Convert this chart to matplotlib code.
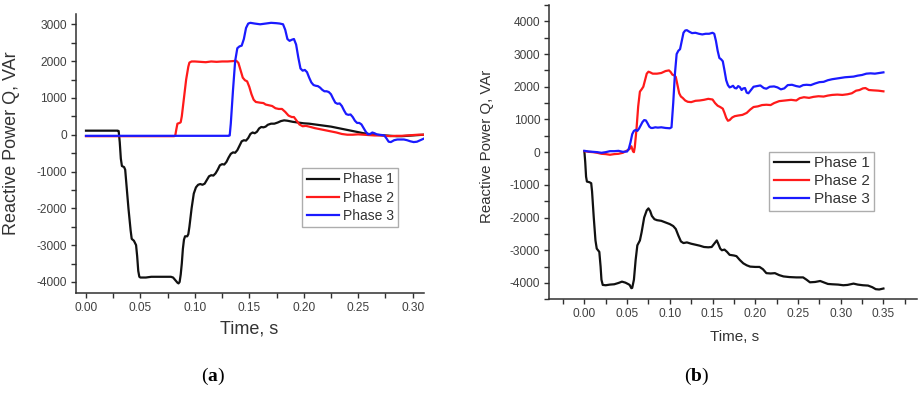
import matplotlib
matplotlib.use('Agg')
import matplotlib.pyplot as plt
from matplotlib.ticker import MultipleLocator, FormatStrFormatter
import numpy as np

plt.rcParams['font.family'] = ['Liberation Sans', 'DejaVu Sans']
plt.rcParams['axes.unicode_minus'] = False
plt.rcParams['mathtext.fontset'] = 'custom'
plt.rcParams['mathtext.rm'] = 'Liberation Serif'
plt.rcParams['mathtext.bf'] = 'Liberation Serif:bold'

# ---- panel (a) data ----
a_p1_t = [0.000, 0.029, 0.030, 0.031, 0.032, 0.033, 0.035, 0.036, 0.037, 0.039, 0.041, 0.042, 0.044,
          0.046, 0.047, 0.048, 0.049, 0.050, 0.055, 0.060, 0.070, 0.078, 0.080, 0.082, 0.084, 0.085,
          0.086, 0.087, 0.088, 0.089, 0.090, 0.091, 0.093, 0.094, 0.095, 0.097, 0.099, 0.101, 0.103,
          0.105, 0.107, 0.109, 0.111, 0.113, 0.115, 0.117, 0.119, 0.121, 0.123, 0.125, 0.127, 0.129,
          0.131, 0.133, 0.135, 0.137, 0.139, 0.141, 0.143, 0.145, 0.147, 0.149, 0.151, 0.153, 0.155,
          0.157, 0.159, 0.161, 0.163, 0.165, 0.167, 0.170, 0.173, 0.176, 0.179, 0.182, 0.185, 0.190,
          0.195, 0.200, 0.205, 0.210, 0.215, 0.220, 0.225, 0.230, 0.235, 0.240, 0.245, 0.250, 0.255,
          0.260, 0.265, 0.270, 0.275, 0.280, 0.285, 0.290, 0.295, 0.300, 0.305, 0.310]
a_p1_q = [110, 110, 100, -200, -650, -850, -880, -950, -1300, -2000, -2600, -2830, -2880,
          -3000, -3300, -3700, -3860, -3880, -3880, -3860, -3860, -3860, -3880, -3950, -4020, -4040,
          -4000, -3800, -3500, -3100, -2850, -2760, -2760, -2700, -2500, -2000, -1600, -1430, -1360,
          -1340, -1360, -1330, -1230, -1130, -1100, -1110, -1050, -950, -830, -800, -810, -740,
          -620, -520, -480, -490, -420, -300, -180, -150, -160, -90, 20, 60, 40,
          80, 170, 210, 200, 220, 270, 300, 300, 330, 370, 390, 380, 350,
          330, 310, 300, 280, 260, 240, 220, 190, 160, 130, 100, 70, 40,
          20, 0, -10, -20, -30, -40, -40, -30, -20, -10, 0]

a_p2_t = [0.000, 0.060, 0.081, 0.082, 0.083, 0.084, 0.086, 0.087, 0.088, 0.090, 0.092, 0.094, 0.095,
          0.097, 0.100, 0.105, 0.110, 0.115, 0.120, 0.125, 0.130, 0.135, 0.138, 0.140, 0.142, 0.144,
          0.146, 0.148, 0.150, 0.152, 0.154, 0.156, 0.158, 0.160, 0.163, 0.165, 0.168, 0.171, 0.174,
          0.177, 0.180, 0.183, 0.186, 0.189, 0.191, 0.193, 0.196, 0.199, 0.202, 0.205, 0.210, 0.215,
          0.220, 0.225, 0.230, 0.235, 0.240, 0.245, 0.250, 0.255, 0.260, 0.265, 0.270, 0.275, 0.280,
          0.285, 0.290, 0.295, 0.300, 0.305, 0.310]
a_p2_q = [-40, -40, -40, -20, 150, 300, 320, 340, 500, 1000, 1500, 1850, 1960,
          1990, 1990, 1980, 1970, 1990, 1980, 1990, 1990, 2000, 2010, 1950, 1750, 1550,
          1480, 1450, 1300, 1100, 950, 890, 880, 870, 860, 820, 800, 780, 720,
          700, 700, 620, 520, 480, 480, 400, 280, 230, 240, 220, 180, 150,
          120, 90, 60, 20, 0, 0, 10, 0, -10, -20, -20, -30, -40,
          -30, -30, -20, -10, 0, 0]

a_p3_t = [0.000, 0.131, 0.132, 0.133, 0.135, 0.137, 0.139, 0.141, 0.143, 0.145, 0.147, 0.149, 0.151,
          0.155, 0.160, 0.165, 0.170, 0.175, 0.178, 0.181, 0.183, 0.185, 0.187, 0.189, 0.191, 0.193,
          0.195, 0.197, 0.199, 0.201, 0.203, 0.205, 0.207, 0.209, 0.211, 0.213, 0.215, 0.217, 0.219,
          0.221, 0.223, 0.225, 0.227, 0.229, 0.231, 0.233, 0.235, 0.237, 0.239, 0.241, 0.243, 0.245,
          0.247, 0.249, 0.251, 0.253, 0.255, 0.257, 0.259, 0.261, 0.263, 0.265, 0.267, 0.269, 0.272,
          0.274, 0.276, 0.278, 0.280, 0.283, 0.286, 0.289, 0.292, 0.295, 0.298, 0.301, 0.304, 0.307,
          0.310]
a_p3_q = [-30, -30, -20, 300, 1200, 2000, 2350, 2400, 2420, 2600, 2900, 3020, 3040,
          3020, 3000, 3020, 3040, 3030, 3020, 3000, 2850, 2600, 2550, 2580, 2600, 2450,
          2100, 1800, 1740, 1760, 1700, 1550, 1420, 1350, 1330, 1320, 1280, 1220, 1180,
          1180, 1160, 1100, 980, 870, 840, 850, 780, 660, 560, 540, 550, 480,
          380, 320, 320, 280, 180, 80, 10, 20, 60, 40, 10, 0, -10,
          -20, -100, -190, -200, -150, -130, -130, -130, -150, -180, -200, -190, -150,
          -110]

# ---- panel (b) data ----
b_p1_t = [0.000, 0.001, 0.002, 0.003, 0.006, 0.008, 0.009, 0.011, 0.013, 0.0145, 0.016, 0.0175, 0.019,
          0.020, 0.0215, 0.025, 0.030, 0.035, 0.040, 0.044, 0.048, 0.051, 0.053, 0.055, 0.056, 0.058,
          0.060, 0.062, 0.064, 0.065, 0.067, 0.070, 0.073, 0.075, 0.077, 0.079, 0.082, 0.085, 0.090,
          0.095, 0.100, 0.104, 0.107, 0.110, 0.113, 0.116, 0.120, 0.125, 0.130, 0.135, 0.140, 0.145,
          0.149, 0.152, 0.155, 0.157, 0.159, 0.161, 0.164, 0.167, 0.170, 0.175, 0.178, 0.182, 0.186,
          0.190, 0.194, 0.200, 0.205, 0.209, 0.213, 0.218, 0.223, 0.228, 0.233, 0.240, 0.248, 0.256,
          0.260, 0.264, 0.270, 0.276, 0.280, 0.285, 0.290, 0.297, 0.303, 0.308, 0.315, 0.320, 0.326,
          0.332, 0.337, 0.341, 0.345, 0.350]
b_p1_q = [30, -300, -750, -900, -920, -950, -1200, -2000, -2700, -2950, -3000, -3050, -3500,
          -3900, -4060, -4070, -4050, -4040, -4000, -3960, -3990, -4030, -4060, -4160, -4150, -3900,
          -3300, -2850, -2750, -2700, -2450, -2000, -1780, -1720, -1800, -1950, -2050, -2080, -2100,
          -2150, -2200, -2260, -2350, -2550, -2730, -2780, -2760, -2800, -2830, -2860, -2900, -2910,
          -2900, -2800, -2700, -2820, -2950, -3000, -2980, -3050, -3140, -3160, -3180, -3300, -3400,
          -3460, -3500, -3510, -3510, -3580, -3700, -3710, -3700, -3760, -3800, -3820, -3830, -3830,
          -3900, -3980, -3970, -3940, -3980, -4030, -4040, -4050, -4070, -4060, -4020, -4050, -4070,
          -4080, -4130, -4190, -4200, -4170]

b_p2_t = [0.000, 0.005, 0.010, 0.015, 0.020, 0.025, 0.030, 0.035, 0.040, 0.045, 0.050, 0.053, 0.055,
          0.057, 0.058, 0.059, 0.061, 0.063, 0.065, 0.067, 0.069, 0.071, 0.073, 0.075, 0.077, 0.080,
          0.085, 0.090, 0.095, 0.099, 0.101, 0.103, 0.105, 0.107, 0.109, 0.111, 0.113, 0.115, 0.118,
          0.121, 0.125, 0.130, 0.135, 0.140, 0.145, 0.150, 0.153, 0.156, 0.159, 0.162, 0.164, 0.166,
          0.168, 0.170, 0.173, 0.176, 0.180, 0.185, 0.190, 0.194, 0.198, 0.203, 0.208, 0.213, 0.218,
          0.222, 0.228, 0.235, 0.242, 0.248, 0.252, 0.257, 0.263, 0.268, 0.274, 0.280, 0.285, 0.290,
          0.296, 0.302, 0.308, 0.313, 0.318, 0.322, 0.326, 0.329, 0.333, 0.338, 0.344, 0.350]
b_p2_q = [30, 10, 0, -20, -50, -60, -80, -60, -50, -20, 50, 100, 180,
          20, 0, 150, 700, 1400, 1850, 1920, 2000, 2200, 2400, 2460, 2440, 2400,
          2400, 2420, 2480, 2500, 2450, 2370, 2350, 2300, 2050, 1800, 1700, 1660, 1580,
          1540, 1530, 1570, 1580, 1600, 1630, 1610, 1500, 1420, 1380, 1330, 1200, 1050,
          960, 980, 1060, 1100, 1120, 1140, 1200, 1300, 1380, 1400, 1440, 1450, 1440,
          1500, 1560, 1580, 1600, 1580, 1650, 1680, 1660, 1690, 1710, 1700, 1730, 1750,
          1760, 1750, 1770, 1800, 1880, 1900, 1950, 1960, 1900, 1890, 1880, 1860]

b_p3_t = [0.000, 0.005, 0.010, 0.015, 0.020, 0.025, 0.030, 0.035, 0.040, 0.045, 0.050, 0.052, 0.054,
          0.056, 0.058, 0.060, 0.062, 0.064, 0.066, 0.068, 0.070, 0.072, 0.074, 0.076, 0.078, 0.080,
          0.083, 0.086, 0.090, 0.095, 0.100, 0.102, 0.104, 0.106, 0.108, 0.110, 0.112, 0.114, 0.116,
          0.118, 0.120, 0.123, 0.126, 0.130, 0.134, 0.138, 0.142, 0.146, 0.150, 0.152, 0.154, 0.156,
          0.158, 0.160, 0.162, 0.164, 0.166, 0.168, 0.170, 0.172, 0.174, 0.176, 0.178, 0.180, 0.182,
          0.184, 0.186, 0.188, 0.190, 0.192, 0.195, 0.198, 0.202, 0.206, 0.210, 0.213, 0.217, 0.222,
          0.226, 0.230, 0.234, 0.238, 0.243, 0.248, 0.252, 0.256, 0.260, 0.265, 0.270, 0.275, 0.280,
          0.285, 0.290, 0.295, 0.300, 0.305, 0.310, 0.315, 0.320, 0.325, 0.330, 0.335, 0.340, 0.345,
          0.350]
b_p3_q = [40, 20, 10, 0, -20, 0, 30, 30, 40, 10, 20, 100, 300,
          550, 650, 680, 650, 720, 820, 920, 980, 970, 880, 780, 740, 740,
          760, 750, 760, 740, 730, 760, 1500, 2400, 3000, 3100, 3150, 3400, 3650,
          3720, 3730, 3680, 3640, 3650, 3620, 3600, 3620, 3620, 3650, 3620, 3400, 3100,
          2880, 2840, 2780, 2500, 2200, 2050, 1980, 2000, 2030, 1960, 1950, 2020, 1990,
          1900, 1950, 1960, 1820, 1800, 1900, 2000, 2020, 2040, 1960, 1940, 2000, 2010,
          1980, 1920, 1950, 2050, 2060, 2020, 2000, 2050, 2060, 2050, 2100, 2140, 2150,
          2200, 2230, 2250, 2270, 2290, 2300, 2310, 2340, 2360, 2400, 2410, 2400, 2420,
          2440]

labels = ['Phase 1', 'Phase 2', 'Phase 3']
colors = ['#111111', '#ff1a1a', '#1a1aff']
txt = '#333333'


def style_axes(ax, fs_tick):
    for s in ['top', 'right']:
        ax.spines[s].set_visible(False)
    for s in ['left', 'bottom']:
        ax.spines[s].set_color('#303030')
        ax.spines[s].set_linewidth(1.1)
    ax.tick_params(which='both', direction='out', color='#303030', width=1.0,
                   labelsize=fs_tick, labelcolor='#404040')
    ax.tick_params(which='major', length=3.5, pad=3)
    ax.tick_params(which='minor', length=3.5)
    ax.yaxis.set_major_locator(MultipleLocator(1000))
    ax.yaxis.set_minor_locator(MultipleLocator(500))
    ax.yaxis.set_major_formatter(FormatStrFormatter('%d'))
    ax.xaxis.set_major_formatter(FormatStrFormatter('%.2f'))


def style_legend(leg):
    leg.get_frame().set_edgecolor('#999999')
    leg.get_frame().set_linewidth(1.0)
    for t in leg.get_texts():
        t.set_color(txt)


fig = plt.figure(figsize=(9.22, 3.93), dpi=100)

# (a)
ax1 = fig.add_axes([0.0824, 0.2545, 0.3774, 0.7099])
ax1.plot(a_p1_t, a_p1_q, color=colors[0], lw=1.6, label=labels[0])
ax1.plot(a_p2_t, a_p2_q, color=colors[1], lw=1.6, label=labels[1])
ax1.plot(a_p3_t, a_p3_q, color=colors[2], lw=1.6, label=labels[2])
ax1.set_xlim(-0.0092, 0.3104)
ax1.set_ylim(-4300, 3280)
style_axes(ax1, 8.6)
ax1.xaxis.set_major_locator(MultipleLocator(0.05))
ax1.xaxis.set_minor_locator(MultipleLocator(0.025))
ax1.set_ylabel('Reactive Power Q, VAr', fontsize=13, color=txt)
ax1.yaxis.set_label_coords(-0.160, 0.536)
ax1.set_xlabel('Time, s', fontsize=13, color=txt)
ax1.xaxis.set_label_coords(0.499, -0.100)
leg1 = ax1.legend(loc='upper left', bbox_to_anchor=(0.651, 0.447), borderaxespad=0,
                  fontsize=10, frameon=True, fancybox=False, handlelength=2.3,
                  handletextpad=0.3, labelspacing=0.32, borderpad=0.3)
style_legend(leg1)

# (b)
ax2 = fig.add_axes([0.5958, 0.2384, 0.3985, 0.7489])
ax2.plot(b_p1_t, b_p1_q, color=colors[0], lw=1.6, label=labels[0])
ax2.plot(b_p2_t, b_p2_q, color=colors[1], lw=1.6, label=labels[1])
ax2.plot(b_p3_t, b_p3_q, color=colors[2], lw=1.6, label=labels[2])
ax2.set_xlim(-0.041, 0.389)
ax2.set_ylim(-4500, 4500)
style_axes(ax2, 8.6)
ax2.set_xticks([0.0, 0.05, 0.10, 0.15, 0.20, 0.25, 0.30, 0.35])
ax2.xaxis.set_minor_locator(MultipleLocator(0.025))
ax2.set_ylabel('Reactive Power Q, VAr', fontsize=10.8, color=txt)
ax2.yaxis.set_label_coords(-0.150, 0.52)
ax2.set_xlabel('Time, s', fontsize=11, color=txt)
ax2.xaxis.set_label_coords(0.503, -0.105)
leg2 = ax2.legend(loc='upper left', bbox_to_anchor=(0.599, 0.5015), borderaxespad=0,
                  fontsize=11, frameon=True, fancybox=False, handlelength=2.3,
                  handletextpad=0.3, labelspacing=0.25, borderpad=0.3)
style_legend(leg2)

# captions
fig.text(0.231, 0.041, r'($\mathbf{a}$)', ha='center', va='center', fontsize=14,
         family='Liberation Serif')
fig.text(0.7556, 0.041, r'($\mathbf{b}$)', ha='center', va='center', fontsize=14,
         family='Liberation Serif')

fig.savefig('out.png', dpi=100)
